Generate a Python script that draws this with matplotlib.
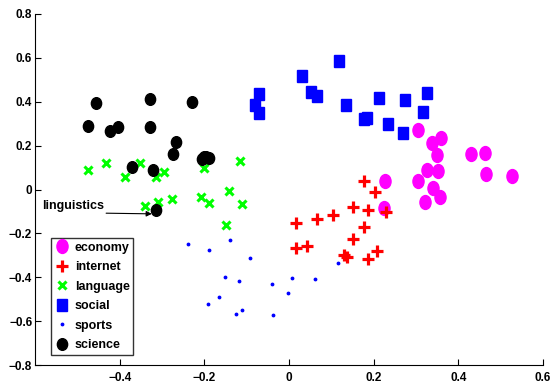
import matplotlib
matplotlib.use("Agg")
import matplotlib.pyplot as plt
from matplotlib.markers import MarkerStyle
from matplotlib.transforms import Affine2D

plt.rcParams['font.family'] = ['Liberation Sans', 'DejaVu Sans']
plt.rcParams['font.weight'] = 'bold'

economy_x = [0.304, 0.338, 0.358, 0.349, 0.429, 0.464, 0.326, 0.352, 0.465, 0.526,
             0.227, 0.304, 0.341, 0.356, 0.321, 0.224]
economy_y = [0.271, 0.214, 0.233, 0.159, 0.162, 0.165, 0.088, 0.086, 0.070, 0.061,
             0.041, 0.040, 0.005, -0.033, -0.059, -0.086]

internet_x = [0.178, 0.203, 0.150, 0.187, 0.228, 0.105, 0.065, 0.017, 0.176, 0.152,
              0.017, 0.042, 0.130, 0.138, 0.209, 0.186]
internet_y = [0.038, -0.011, -0.080, -0.095, -0.102, -0.118, -0.135, -0.153, -0.170, -0.227,
              -0.268, -0.259, -0.300, -0.308, -0.280, -0.315]

language_x = [-0.474, -0.432, -0.387, -0.353, -0.313, -0.295, -0.200, -0.116, -0.141, -0.341,
              -0.310, -0.277, -0.207, -0.189, -0.110, -0.148]
language_y = [0.088, 0.123, 0.056, 0.123, 0.056, 0.080, 0.100, 0.129, -0.005, -0.074,
              -0.059, -0.044, -0.036, -0.061, -0.067, -0.162]

social_x = [-0.070, -0.080, -0.070, 0.118, 0.031, 0.052, 0.065, 0.135, 0.212, 0.273,
            0.326, 0.316, 0.177, 0.184, 0.234, 0.269]
social_y = [0.435, 0.385, 0.350, 0.585, 0.517, 0.445, 0.426, 0.386, 0.415, 0.408,
            0.438, 0.355, 0.320, 0.327, 0.300, 0.258]

sports_x = [-0.239, -0.189, -0.139, -0.091, -0.152, -0.117, -0.041, -0.003, -0.165, -0.192,
            -0.111, -0.126, -0.037, 0.115, 0.008, 0.062]
sports_y = [-0.247, -0.277, -0.232, -0.314, -0.397, -0.418, -0.429, -0.470, -0.489, -0.520,
            -0.548, -0.567, -0.573, -0.335, -0.405, -0.409]

science_x = [-0.475, -0.455, -0.422, -0.405, -0.329, -0.328, -0.370, -0.322, -0.268, -0.275,
             -0.228, -0.205, -0.195, -0.190, -0.200, -0.313]
science_y = [0.288, 0.394, 0.268, 0.286, 0.414, 0.283, 0.101, 0.088, 0.218, 0.161,
             0.397, 0.138, 0.148, 0.142, 0.150, -0.092]

x_ticks = [-0.4, -0.2, 0, 0.2, 0.4, 0.6]
x_ticklabels = ['\u22120.4', '\u22120.2', '0', '0.2', '0.4', '0.6']
y_ticks = [-0.8, -0.6, -0.4, -0.2, 0, 0.2, 0.4, 0.6, 0.8]
y_ticklabels = ['\u22120.8', '\u22120.6', '\u22120.4', '\u22120.2', '0', '0.2', '0.4', '0.6', '0.8']

fig = plt.figure(figsize=(5.53, 3.85), dpi=100)
ax = fig.add_axes([35 / 553, 20 / 385, 508 / 553, 351 / 385])

ell = MarkerStyle('o', transform=Affine2D().scale(0.8, 1.0))
sq = MarkerStyle('s', transform=Affine2D().scale(0.85, 1.0))
sci = MarkerStyle('o', transform=Affine2D().scale(0.88, 1.0))

ax.plot(economy_x, economy_y, linestyle='none', marker=ell, markersize=10,
        color='#ff00ff', markeredgecolor='#ff00ff', label='economy')
ax.plot(internet_x, internet_y, linestyle='none', marker='+', markersize=8,
        markeredgewidth=2.3, color='#ff0000', label='internet')
ax.plot(language_x, language_y, linestyle='none', marker='x', markersize=5.5,
        markeredgewidth=2.2, color='#00ff00', label='language')
ax.plot(social_x, social_y, linestyle='none', marker=sq, markersize=8.6,
        color='#0000ff', markeredgecolor='#0000ff', label='social')
ax.plot(sports_x, sports_y, linestyle='none', marker='.', markersize=3.5,
        color='#0000ff', label='sports')
ax.plot(science_x, science_y, linestyle='none', marker=sci, markersize=8.4,
        color='black', markeredgecolor='black', label='science')

ax.annotate('', xy=(-0.324, -0.111), xytext=(-0.432, -0.108),
            arrowprops=dict(arrowstyle='-|>', color='black', lw=0.8,
                            shrinkA=0, shrinkB=0, mutation_scale=8))
ax.text(-0.583, -0.073, 'linguistics', fontsize=9, fontweight='bold', va='center', ha='left')

ax.set_xlim(-0.6, 0.6)
ax.set_ylim(-0.8, 0.8)
ax.set_xticks(x_ticks)
ax.set_xticklabels(x_ticklabels)
ax.set_yticks(y_ticks)
ax.set_yticklabels(y_ticklabels)
ax.tick_params(direction='in', length=4, width=0.8, labelsize=8.5)
ax.tick_params(axis='x', pad=5)
ax.tick_params(axis='y', pad=2)
for lbl in ax.get_xticklabels() + ax.get_yticklabels():
    lbl.set_fontweight('bold')
ax.spines['top'].set_visible(False)
ax.spines['right'].set_visible(False)

leg = ax.legend(loc='lower left', bbox_to_anchor=(16 / 508, 10 / 351), fontsize=9,
                frameon=True, fancybox=False, edgecolor='black', borderpad=0.3,
                labelspacing=0.6, handlelength=1.2, handletextpad=0.4,
                borderaxespad=0, markerscale=1.0)
leg.get_frame().set_linewidth(1.0)
for t in leg.get_texts():
    t.set_fontweight('bold')

fig.savefig('out.png', dpi=100)
